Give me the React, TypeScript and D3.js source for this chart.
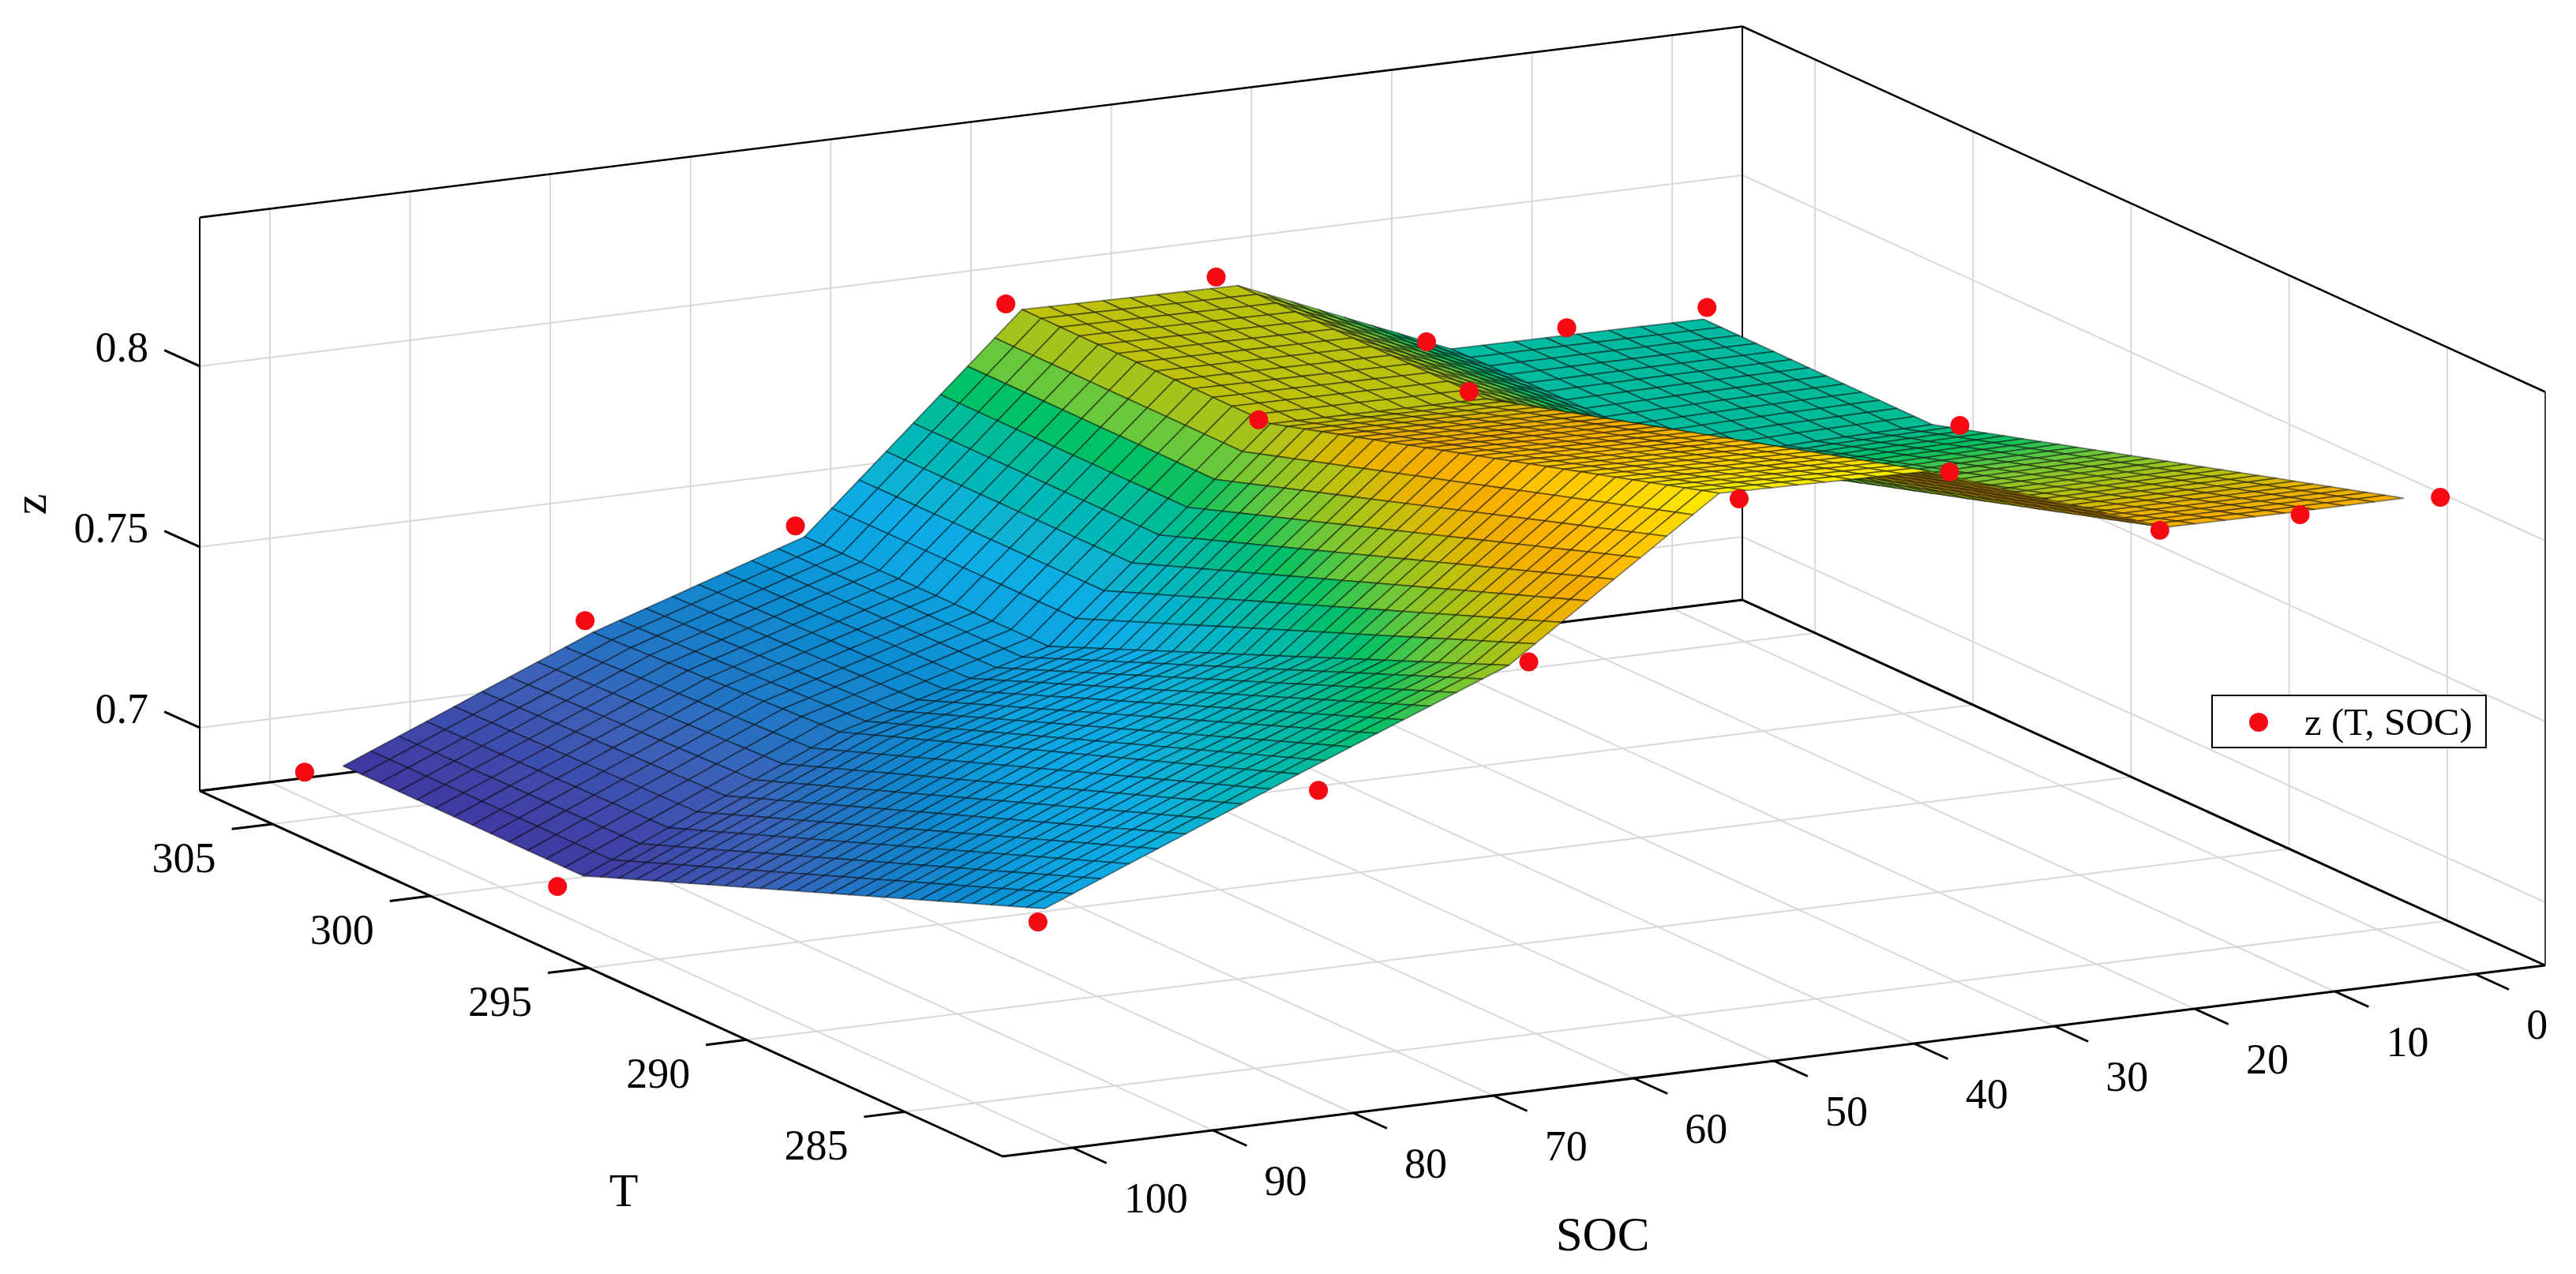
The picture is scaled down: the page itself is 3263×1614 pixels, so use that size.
import React, { useEffect, useRef } from 'react';
import * as d3 from 'd3';

// axis limits
const tLimits = [307.3, 281.9];
const socLimits = [105, -5];
const zLimits = [0.68253, 0.84115];

const tTicks = [305, 300, 295, 290, 285];
const socTicks = [100, 90, 80, 70, 60, 50, 40, 30, 20, 10, 0];
const zTicks = [0.7, 0.75, 0.8];
const zTickLabels = ['0.7', '0.75', '0.8'];

// measured points (red markers)
const dotT = [283, 298.2, 306.2];
const dotSOC = [100, 80, 65, 50, 35, 20, 10, 0];
const dotZFront = [0.7406, 0.7674, 0.7957, 0.8336, 0.8339, 0.8105, 0.81, 0.81];
const dotZMid = [0.6899, 0.72, 0.738, 0.795, 0.7956, 0.767, 0.767, 0.7694];
const dotZBack = [0.6897, 0.722, 0.741, 0.7952, 0.7954, 0.7703, 0.7694, 0.7702];
// mid row markers that sit under the surface
const hiddenMidSOC = [80, 65, 20, 10];

// surface knots, rows front / mid / back
const surfaceT = [283.9, 298.1, 306];
const surfaceSOCFront = [97.5, 79.4, 64.4, 49.4, 34.4, 17.6, 9.1, 0.6];
const surfaceSOCMid = [98.4, 80.1, 65.2, 49.4, 34, 18.8, 10.5, 2.2];
const surfaceSOCBack = [97.7, 79.9, 64.8, 49.3, 33.9, 18.7, 9.7, 0.7];
const surfaceZFront = [0.7395, 0.768, 0.7909, 0.8313, 0.8302, 0.8066, 0.8064, 0.8065];
const surfaceZMid = [0.6925, 0.7235, 0.74, 0.794, 0.7935, 0.7695, 0.7705, 0.7711];
const surfaceZBack = [0.6911, 0.7195, 0.7387, 0.7941, 0.7933, 0.7685, 0.7683, 0.7681];

// mesh cells per knot interval
const tCells = [26, 13];
const socCells = [9, 8, 8, 8, 8, 4, 4];

const colorZ = [0.688, 0.7, 0.712, 0.722, 0.732, 0.74, 0.75, 0.76, 0.77, 0.777, 0.784, 0.794, 0.8, 0.806, 0.812, 0.822, 0.83];
const colorHex = ['#41309b', '#3f48aa', '#3c62b8', '#1f78c6', '#0c8dd2', '#08a2e0', '#09ade6', '#06b6c6', '#00bb9a', '#06c164', '#6cc83a', '#bfc20e', '#e8b400', '#f5ae00', '#ffba00', '#ffd400', '#f8ec00'];

const tScale = d3.scaleLinear().domain(tLimits).range([0, 1]);
const socScale = d3.scaleLinear().domain(socLimits).range([0, 1]);
const zScale = d3.scaleLinear().domain(zLimits).range([0, 1]);
const color = d3.scaleLinear<string>().domain(colorZ).range(colorHex).clamp(true);

// orthographic box: left corner plus the three edge vectors in pixels
const project = (T: number, soc: number, z: number): [number, number] => {
  const a = tScale(T);
  const b = socScale(soc);
  const c = zScale(z);
  return [253 + 1017 * a + 1954 * b, 1002 + 463 * a - 242 * b - 726.5 * c];
};

// larger = nearer the viewer
const depth = (T: number, soc: number, z: number) =>
  1893 * tScale(T) - 990 * socScale(soc) + 177 * zScale(z);

const buildQuads = () => {
  const socRows = [surfaceSOCFront, surfaceSOCMid, surfaceSOCBack];
  const zRows = [surfaceZFront, surfaceZMid, surfaceZBack];
  const vertex = (r: number, rf: number, k: number, kf: number) => {
    const mix = (rows: number[][]) => {
      const near = d3.interpolateNumber(rows[r][k], rows[r][k + 1])(kf);
      const far = d3.interpolateNumber(rows[r + 1][k], rows[r + 1][k + 1])(kf);
      return d3.interpolateNumber(near, far)(rf);
    };
    return {
      T: d3.interpolateNumber(surfaceT[r], surfaceT[r + 1])(rf),
      soc: mix(socRows),
      z: mix(zRows),
    };
  };
  const quads: { pts: [number, number][]; z: number; d: number }[] = [];
  tCells.forEach((nr, r) => {
    for (let i = 0; i < nr; i++) {
      socCells.forEach((nk, k) => {
        for (let j = 0; j < nk; j++) {
          const c = [
            vertex(r, i / nr, k, j / nk),
            vertex(r, (i + 1) / nr, k, j / nk),
            vertex(r, (i + 1) / nr, k, (j + 1) / nk),
            vertex(r, i / nr, k, (j + 1) / nk),
          ];
          quads.push({
            pts: c.map(v => project(v.T, v.soc, v.z)),
            z: d3.mean(c, v => v.z) as number,
            d: d3.mean(c, v => depth(v.T, v.soc, v.z)) as number,
          });
        }
      });
    }
  });
  return quads.sort((p, q) => p.d - q.d);
};

const App = () => {
  const ref = useRef<SVGSVGElement>(null);

  useEffect(() => {
    const svg = d3.select(ref.current);
    svg.selectAll('*').remove();

    // the source picture is a soft upscale, so the mesh gets a touch of blur
    svg.append('defs').append('filter')
      .attr('id', 'soft')
      .attr('x', '-2%').attr('y', '-2%').attr('width', '104%').attr('height', '104%')
      .append('feGaussianBlur')
      .attr('stdDeviation', 0.7);

    const line = d3.line();
    const [tBack, tFront] = tLimits;
    const [socLeft, socRight] = socLimits;
    const [zLow, zHigh] = zLimits;
    const seg = (p: [number, number], q: [number, number], stroke: string, w: number) =>
      svg.append('path').attr('d', line([p, q])).attr('fill', 'none').attr('stroke', stroke).attr('stroke-width', w);

    // grid on floor and the two walls
    const grid = '#d8d8d8';
    socTicks.forEach(s => {
      seg(project(tFront, s, zLow), project(tBack, s, zLow), grid, 2);
      seg(project(tBack, s, zLow), project(tBack, s, zHigh), grid, 2);
    });
    tTicks.forEach(t => {
      seg(project(t, socLeft, zLow), project(t, socRight, zLow), grid, 2);
      seg(project(t, socRight, zLow), project(t, socRight, zHigh), grid, 2);
    });
    zTicks.forEach(z => {
      seg(project(tBack, socLeft, z), project(tBack, socRight, z), grid, 2);
      seg(project(tBack, socRight, z), project(tFront, socRight, z), grid, 2);
    });

    // box
    seg(project(tBack, socLeft, zLow), project(tBack, socRight, zLow), '#000', 3);
    seg(project(tBack, socRight, zLow), project(tFront, socRight, zLow), '#000', 3);
    seg(project(tBack, socLeft, zLow), project(tBack, socLeft, zHigh), '#000', 2);
    seg(project(tBack, socRight, zLow), project(tBack, socRight, zHigh), '#000', 2);
    seg(project(tFront, socRight, zLow), project(tFront, socRight, zHigh), '#444', 2);
    seg(project(tBack, socLeft, zHigh), project(tBack, socRight, zHigh), '#000', 2.5);
    seg(project(tBack, socRight, zHigh), project(tFront, socRight, zHigh), '#000', 2.5);
    seg(project(tBack, socLeft, zLow), project(tFront, socLeft, zLow), '#000', 3);
    seg(project(tFront, socLeft, zLow), project(tFront, socRight, zLow), '#000', 3);

    // tick marks and labels
    const label = (x: number, y: number, text: string, anchor: string, size = 54) =>
      svg.append('text')
        .attr('x', x)
        .attr('y', y)
        .attr('text-anchor', anchor)
        .attr('font-family', '"Liberation Serif", serif')
        .attr('font-size', size)
        .attr('fill', '#000')
        .text(text);

    zTicks.forEach((z, i) => {
      const p = project(tBack, socLeft, z);
      seg(p, project(tBack + 1.12, socLeft, z), '#000', 3);
      label(188, p[1] - 24 + 18, zTickLabels[i], 'end');
    });
    tTicks.forEach(t => {
      const p = project(t, socLeft, zLow);
      seg(p, project(t, socLeft + 2.9, zLow), '#000', 3);
      label(p[0] - 112, p[1] + 43 + 18, String(t), 'middle');
    });
    socTicks.forEach(s => {
      const p = project(tFront, s, zLow);
      seg(p, project(tFront - 1.07, s, zLow), '#000', 3);
      label(p[0] + 65, p[1] + 64 + 18, String(s), 'start');
    });

    label(790, 1528, 'T', 'middle', 60);
    label(2030, 1584, 'SOC', 'middle', 61);
    label(0, 0, 'z', 'middle', 60).attr('transform', 'translate(58,639) rotate(-90)');

    const dotRows = [dotZFront, dotZMid, dotZBack];
    const drawDots = (keep: (row: number, soc: number) => boolean) => {
      dotRows.forEach((zs, row) => {
        dotSOC.forEach((s, i) => {
          if (!keep(row, s)) return;
          const [x, y] = project(dotT[row], s, zs[i]);
          svg.append('circle').attr('cx', x).attr('cy', y).attr('r', 12).attr('fill', '#f50a14');
        });
      });
    };
    const isHidden = (row: number, soc: number) => row === 1 && hiddenMidSOC.includes(soc);

    drawDots(isHidden);

    // surface, far quads first
    svg.append('g')
      .attr('filter', 'url(#soft)')
      .selectAll('path')
      .data(buildQuads())
      .join('path')
      .attr('d', q => line(q.pts) + 'Z')
      .attr('fill', q => color(q.z))
      .attr('stroke', '#000')
      .attr('stroke-opacity', 0.45)
      .attr('stroke-width', 1.8)
      .attr('stroke-linejoin', 'round');

    drawDots((row, s) => !isHidden(row, s));

    // legend
    svg.append('rect')
      .attr('x', 2802).attr('y', 881).attr('width', 347).attr('height', 66)
      .attr('fill', '#fff').attr('stroke', '#000').attr('stroke-width', 2);
    svg.append('circle').attr('cx', 2861).attr('cy', 915).attr('r', 12).attr('fill', '#f50a14');
    label(2919, 931, 'z (T, SOC)', 'start', 49);
  }, []);

  return (
    <svg
      ref={ref}
      width={3263}
      height={1614}
      viewBox="0 0 3263 1614"
      style={{ position: 'absolute', left: 0, top: 0, background: '#fff' }}
    />
  );
};

export default App;
